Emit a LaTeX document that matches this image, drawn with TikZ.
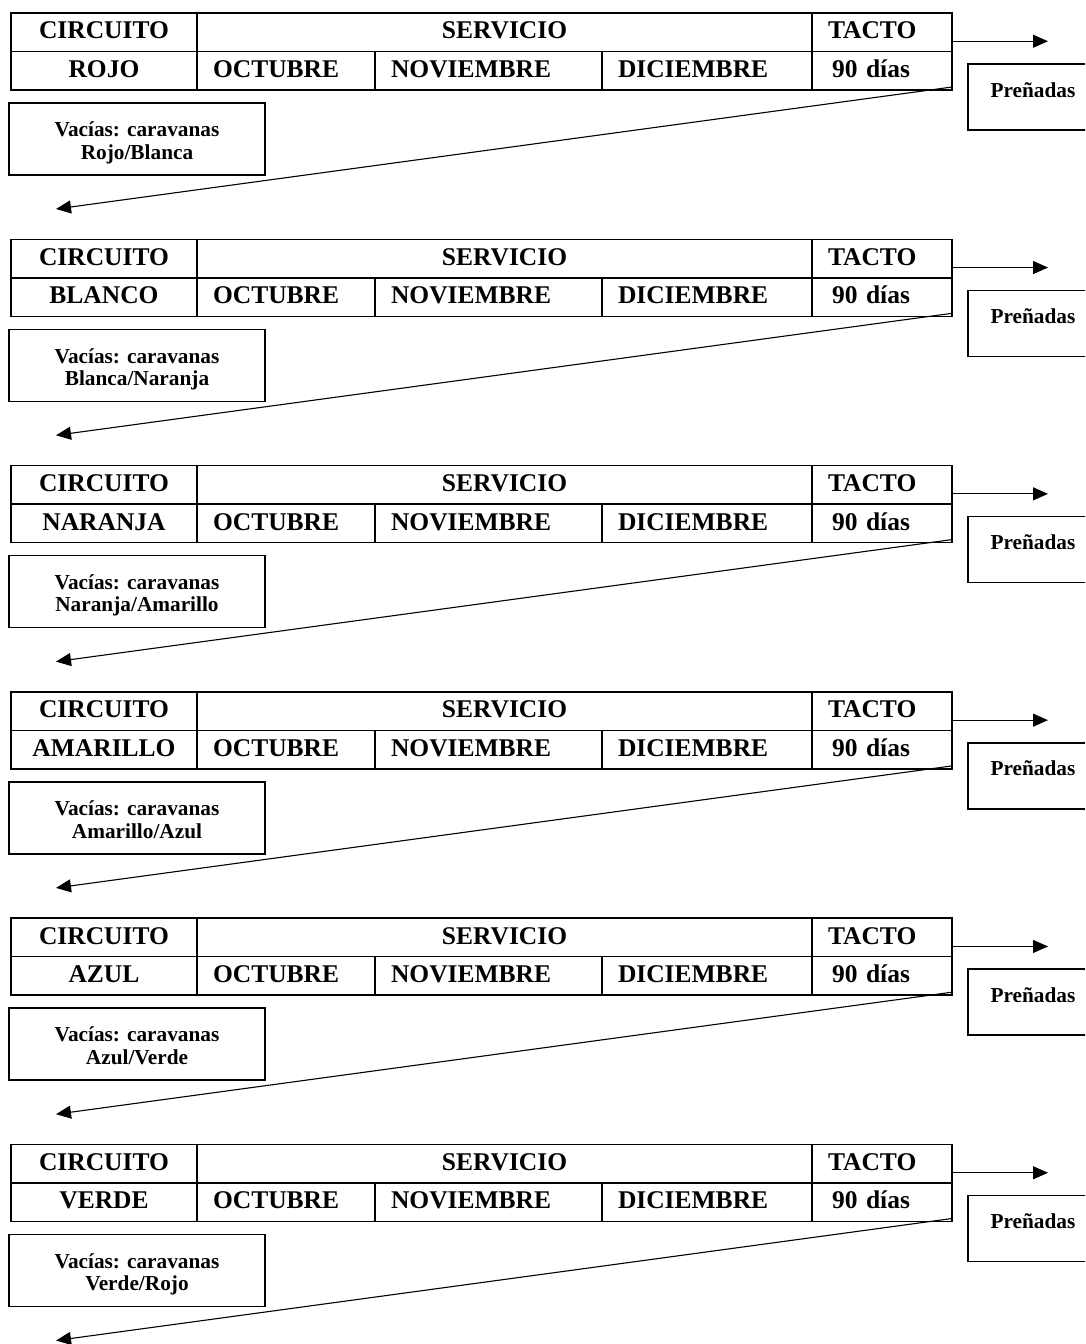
\documentclass[tikz,border=0pt]{standalone}
\usepackage{fontspec}
\setmainfont{Liberation Serif}
\usetikzlibrary{positioning, arrows.meta}

\begin{document}
\begin{tikzpicture}[x=1pt, y=-1pt,
	font=\bfseries\fontsize{25.5}{30}\selectfont,
	cell/.style={draw, line width=1.5pt, outer sep=0pt, inner ysep=0pt,
		minimum height=38.5pt, text height=18pt, text depth=4.6pt},
	mid/.style={cell, minimum width=#1, inner xsep=0pt},
	padcell/.style={cell, inner xsep=16pt, text width=#1, align=left},
	vbox/.style={draw, line width=1.5pt, outer sep=0pt, minimum width=256pt,
		minimum height=72pt, align=center, text height=46pt, text depth=5.4pt,
		font=\bfseries\fontsize{21.3}{22.6}\selectfont},
	pbox/.style={draw, line width=1.5pt, outer sep=0pt, minimum width=130pt,
		minimum height=66pt, text height=12pt, text depth=12pt,
		font=\bfseries\fontsize{21.3}{22.6}\selectfont},
	arr/.style={-{Triangle[length=15pt, width=13pt]}, line width=1.1pt}]
	\path[use as bounding box, clip] (0,0) rectangle (1085,1344);
	\foreach \i/\col/\a/\b in {0/ROJO/Rojo/Blanca, 1/BLANCO/Blanca/Naranja,
		2/NARANJA/Naranja/Amarillo, 3/AMARILLO/Amarillo/Azul,
		4/AZUL/Azul/Verde, 5/VERDE/Verde/Rojo}{
		\pgfmathsetmacro\y{13+226.3*\i}
		\node[mid=186pt, anchor=north west] (c\i) at (11,\y) {CIRCUITO};
		\node[mid=615pt, right=0pt of c\i] (s\i) {SERVICIO};
		\node[padcell=108pt, right=0pt of s\i] (t\i) {TACTO};
		\node[mid=186pt, below=0pt of c\i] (n\i) {\col};
		\node[padcell=146pt, right=0pt of n\i] (oct\i) {OCTUBRE};
		\node[padcell=195pt, right=0pt of oct\i] (nov\i) {NOVIEMBRE};
		\node[padcell=178pt, right=0pt of nov\i] (dic\i) {DICIEMBRE};
		\node[padcell=108pt, right=0pt of dic\i] (d\i) {\hspace*{4pt}90 días};
		\node[vbox, below right=13pt and -2pt of n\i.south west] (v\i) {Vacías: caravanas\\\a/\b};
		\node[pbox, below right=12.5pt and 16pt of d\i.north east] (p\i) {Preñadas};
		\coordinate (ta\i) at ([yshift=-9pt]t\i.east);
		\coordinate[right=96pt of ta\i] (tb\i);
		\coordinate[below right=34pt and 47pt of v\i.south west] (e\i);
		\draw[arr] (ta\i) -- (tb\i);
		\draw[arr] ([yshift=3pt]d\i.south east) -- (e\i);
	}
\end{tikzpicture}
\end{document}
